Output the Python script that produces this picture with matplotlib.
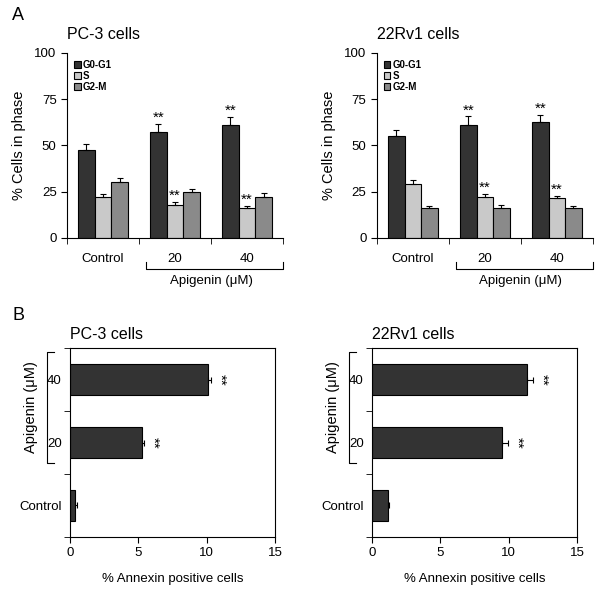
import numpy as np
import matplotlib
matplotlib.use("Agg")
import matplotlib.pyplot as plt

plt.rcParams["font.family"] = ["Liberation Sans", "DejaVu Sans"]

# cell-cycle data (panel A)
groups = ["Control", "20", "40"]
phases = ["G0-G1", "S", "G2-M"]
pc3_phase = {"G0-G1": [47.3, 57.2, 61.2], "S": [22.2, 17.7, 16.4], "G2-M": [30.1, 24.7, 22.2]}
pc3_phase_err = {"G0-G1": [3.3, 4.6, 4.0], "S": [1.5, 1.7, 1.0], "G2-M": [2.4, 2.0, 2.1]}
rv1_phase = {"G0-G1": [54.9, 61.3, 62.5], "S": [29.4, 22.3, 21.6], "G2-M": [16.0, 16.0, 16.0]}
rv1_phase_err = {"G0-G1": [3.6, 4.4, 3.8], "S": [2.1, 1.5, 1.3], "G2-M": [1.4, 2.0, 1.1]}
phase_stars = {"G0-G1": [False, True, True], "S": [False, True, True], "G2-M": [False, False, False]}

# annexin data (panel B)
annexin_groups = ["Control", "20", "40"]
pc3_annexin = [0.37, 5.24, 10.1]
pc3_annexin_err = [0.13, 0.18, 0.25]
rv1_annexin = [1.15, 9.55, 11.35]
rv1_annexin_err = [0.07, 0.4, 0.45]
annexin_stars = [False, True, True]

colors = {"G0-G1": "#333333", "S": "#c9c9c9", "G2-M": "#8a8a8a"}

fig = plt.figure(figsize=(6.01, 5.95), dpi=100)


def phase_panel(rect, title, vals, errs):
    ax = fig.add_axes(rect)
    x = np.arange(len(groups))
    w = 0.23
    for i, ph in enumerate(phases):
        xs = x + (i - 1) * w
        e = np.array(errs[ph])
        ax.bar(xs, vals[ph], w, color=colors[ph], edgecolor="black", linewidth=0.8,
               yerr=[np.zeros_like(e), e], capsize=2,
               error_kw=dict(elinewidth=0.8, capthick=0.8, ecolor="black"), label=ph)
        for xi, v, ee, s in zip(xs, vals[ph], e, phase_stars[ph]):
            if s:
                ax.text(xi, v + ee - 0.5, "**", ha="center", va="bottom", fontsize=11)
    ax.set_xlim(-0.5, 2.5)
    ax.set_ylim(0, 100)
    ax.set_yticks([0, 25, 50, 75, 100])
    ax.set_xticks(x)
    ax.set_xticklabels(groups, fontsize=9.5)
    ax.tick_params(axis="x", length=0, pad=11)
    ax.set_xticks([-0.5, 0.5, 1.5, 2.5], minor=True)
    ax.tick_params(axis="x", which="minor", length=4, direction="out")
    ax.tick_params(axis="y", length=4, direction="out", labelsize=9.5)
    for s in ["top", "right"]:
        ax.spines[s].set_visible(False)
    for s in ["left", "bottom"]:
        ax.spines[s].set_linewidth(0.8)
    ax.set_ylabel("% Cells in phase", fontsize=10.5, labelpad=6)
    ax.text(0, 1.06, title, transform=ax.transAxes, ha="left", va="bottom", fontsize=11.5)
    ax.legend(loc="upper left", frameon=False, handlelength=0.7,
              handleheight=0.7, handletextpad=0.2, labelspacing=0.1,
              borderaxespad=0.3, prop={"weight": "bold", "size": 7})
    # bracket under the apigenin groups
    tr = ax.get_xaxis_transform()
    ax.plot([0.6, 0.6, 2.5, 2.5], [-0.13, -0.17, -0.17, -0.13], color="black",
            lw=0.8, transform=tr, clip_on=False)
    ax.text(1.5, -0.2, "Apigenin (\u03bcM)", transform=tr, ha="center", va="top", fontsize=9.5)
    return ax


def annexin_panel(rect, title, vals, errs):
    ax = fig.add_axes(rect)
    y = np.arange(len(annexin_groups))
    e = np.array(errs)
    ax.barh(y, vals, 0.5, color="#333333", edgecolor="black", linewidth=0.8,
            xerr=[np.zeros_like(e), e], capsize=2,
            error_kw=dict(elinewidth=0.8, capthick=0.8, ecolor="black"))
    for yi, v, ee, s in zip(y, vals, e, annexin_stars):
        if s:
            ax.text(v + ee + 0.15, yi, "**", ha="left", va="center", rotation=-90, fontsize=11)
    ax.set_xlim(0, 15)
    ax.set_ylim(-0.5, 2.5)
    ax.set_xticks([0, 5, 10, 15])
    ax.set_yticks(y)
    ax.set_yticklabels(annexin_groups, fontsize=9.5)
    ax.tick_params(axis="y", length=0, pad=6)
    ax.set_yticks([-0.5, 0.5, 1.5, 2.5], minor=True)
    ax.tick_params(axis="y", which="minor", length=4, direction="out")
    ax.tick_params(axis="x", length=4, direction="out", labelsize=9.5)
    for s in ax.spines.values():
        s.set_linewidth(0.8)
    ax.set_xlabel("% Annexin positive cells", fontsize=9.5, labelpad=10)
    ax.text(0, 1.03, title, transform=ax.transAxes, ha="left", va="bottom", fontsize=11.5)
    tr = ax.get_yaxis_transform()
    ax.plot([-0.08, -0.112, -0.112, -0.08], [2.44, 2.44, 0.68, 0.68], color="black",
            lw=0.8, transform=tr, clip_on=False)
    ax.text(-0.19, 1.56, "Apigenin (\u03bcM)", transform=tr, ha="center", va="center",
            rotation=90, fontsize=10.5)
    return ax


phase_panel([0.1115, 0.6, 0.3594, 0.311], "PC-3 cells", pc3_phase, pc3_phase_err)
phase_panel([0.627, 0.6, 0.3594, 0.311], "22Rv1 cells", rv1_phase, rv1_phase_err)
annexin_panel([0.1165, 0.0975, 0.341, 0.3176], "PC-3 cells", pc3_annexin, pc3_annexin_err)
annexin_panel([0.619, 0.0975, 0.341, 0.3176], "22Rv1 cells", rv1_annexin, rv1_annexin_err)

fig.text(12 / 601, 1 - 15 / 595, "A", fontsize=13, ha="left", va="center")
fig.text(12 / 601, 1 - 315 / 595, "B", fontsize=13, ha="left", va="center")

fig.savefig("out.png", dpi=100)
plt.close("all")
